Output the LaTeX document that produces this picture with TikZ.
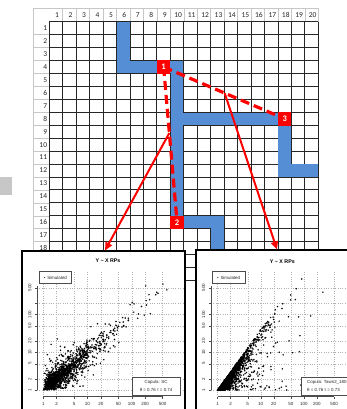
\documentclass[tikz,border=0pt]{standalone}
\usepackage{fontspec}
\setmainfont{Carlito}
\newfontfamily\plotfont{Liberation Sans}
\usetikzlibrary{arrows.meta,calc}
\definecolor{cellblue}{RGB}{85,142,213}
\newcommand\bluebox[4]{\fill[cellblue] ([xshift=0.45pt,yshift=-0.45pt]#1-1,#2-1) rectangle ([xshift=-0.45pt,yshift=0.45pt]#3,#4);}
\begin{document}
\begin{tikzpicture}[x=1pt,y=-1pt,
  gridline/.style={black!85, line width=0.9pt},
  hdrline/.style={black!22, line width=0.6pt},
  hdrnum/.style={font=\fontsize{7.5}{8}\selectfont, inner sep=0pt, text=black!85},
  marker/.style={fill=red, text=white, font=\fontsize{8.5}{9}\selectfont\bfseries, minimum size=13.5pt, inner sep=0pt},
  dashline/.style={red, line width=3.2pt, dash pattern=on 9pt off 5pt},
  arrowline/.style={red, line width=2pt, -{Triangle[length=8pt,width=7pt]}},
  plotframe/.style={draw=black, line width=1.5pt, fill=white},
  plotgrid/.style={black!30, line width=0.35pt, dotted},
  axisline/.style={black!70, line width=0.35pt},
  ptitle/.style={font=\plotfont\bfseries\fontsize{5.3}{6}\selectfont, inner sep=0pt},
  ticklab/.style={font=\plotfont\fontsize{4.5}{5}\selectfont, inner sep=0pt, text=black!85},
  legbox/.style={draw=black!70, line width=0.4pt, fill=white},
  legtext/.style={font=\plotfont\fontsize{4.4}{7.8}\selectfont, inner sep=0pt, text=black!85},
  dot/.style={draw=black, line width=0.35pt}
]
\useasboundingbox (0,0) rectangle (346,409);
\fill[white] (0,0) rectangle (346,409);

% stray grey square at left
\fill[black!22] (0,176.7) rectangle (11.7,195);

% header lines
\draw[hdrline] (33,8.3) -- (318.3,8.3);
\draw[hdrline] (33,8.3) -- (33,280.5);
\foreach \k in {1,...,19} \draw[hdrline] ({49.3+\k*13.45},8.3) -- ({49.3+\k*13.45},21.7);
\foreach \k in {1,...,20} \draw[hdrline] (33,{21.7+\k*12.94}) -- (49.3,{21.7+\k*12.94});
\draw[hdrline] (318.3,8.3) -- (318.3,21.7);

\begin{scope}[shift={(49.3,21.7)}, x=13.45pt, y=-12.94pt]
  % grid
  \foreach \k in {0,...,20} \draw[gridline] (\k,0) -- (\k,20);
  \foreach \k in {0,...,20} \draw[gridline] (0,\k) -- (20,\k);
  % headers
  \foreach \c in {1,...,20} \node[hdrnum] (h\c) at (\c-0.42,-0.53) {\c};
  \foreach \r in {1,...,18} \node[hdrnum, anchor=east] (r\r) at (-0.15,\r-0.5) {\r};
  % blue path
  \bluebox{6}{1}{6}{4}
  \bluebox{6}{4}{10}{4}
  \bluebox{10}{4}{10}{16}
  \bluebox{10}{8}{18}{8}
  \bluebox{18}{8}{18}{12}
  \bluebox{18}{12}{20}{12}
  \bluebox{10}{16}{13}{16}
  \bluebox{13}{16}{13}{20}
  % marker positions
  \coordinate (c1) at (8.5,3.5);
  \coordinate (c2) at (9.5,15.5);
  \coordinate (c3) at (17.5,7.5);
  \draw[dashline] (c1) -- (c3);
  \draw[dashline] (c1) -- (c2);
  \node[marker] (m1) at (c1) {1};
  \node[marker] (m2) at (c2) {2};
  \node[marker] (m3) at (c3) {3};
  \coordinate (s1) at ($(c1)!0.425!(c2)$);
  \coordinate (s2) at ($(c1)!0.504!(c3)$);
\end{scope}

% ================= left plot =================
\draw[plotframe] (22,251) rectangle (185,412);
\node[ptitle] (ltitle) at (108,261) {Y \textasciitilde{} X RPs};
\foreach \v in {1,2,5,10,20,50,100,200,500}{
  \pgfmathsetmacro\gx{43.3+44.2*log10(\v)}
  \pgfmathsetmacro\gy{390.3-38*log10(\v)}
  \draw[plotgrid] (\gx,272) -- (\gx,396);
  \draw[plotgrid] (36.8,\gy) -- (183,\gy);
  \draw[axisline] (\gx,396.5) -- (\gx,398.5);
  \draw[axisline] (34.8,\gy) -- (36.8,\gy);
  \node[ticklab] (lx\v) at (\gx,404) {\v};
}
\foreach \v in {1,2,5,10,20,50,100,500}{
  \pgfmathsetmacro\gy{390.3-38*log10(\v)}
  \node[ticklab, rotate=90] (ly\v) at (29.8,\gy) {\v};
}
\draw[axisline] (43.3,396.5) -- (162.7,396.5);
\draw[axisline] (36.8,390.3) -- (36.8,285.9);
\pgfmathsetseed{4242}
\begin{scope}
  \clip (37.5,271) rectangle (183,396);
  \foreach \i in {1,...,1400}{
    \pgfmathsetmacro\z{-0.95*ln(1-0.9999*rnd)}
    \pgfmathsetmacro\px{43.3+19.2*(\z-0.3*ln(1-0.9999*rnd))}
    \pgfmathsetmacro\py{390.3-16.5*(\z-0.3*ln(1-0.9999*rnd))}
    \draw[dot] (\px,\py) circle[radius=0.6pt];
  }
\end{scope}
\node[legbox, minimum width=31.7pt, minimum height=12pt, anchor=north west, legtext] (lleg) at (39.3,271.3) {\textbullet\hspace{2pt}Simulated};
\node[legbox, minimum width=48.3pt, minimum height=18.3pt, anchor=north west] (lcop) at (131.7,376.7) {};
\node[legtext, align=center] (lcopt) at (lcop.center) {Copula: SC\\θ = 0.76 τ = 0.74};

% ================= right plot =================
\draw[plotframe] (196,250) rectangle (352,412);
\node[ptitle] (rtitle) at (282.3,261.3) {Y \textasciitilde{} X RPs};
\foreach \v in {1,2,5,10,20,50,100,200,500}{
  \pgfmathsetmacro\gx{217.5+43.2*log10(\v)}
  \pgfmathsetmacro\gy{390.3-38*log10(\v)}
  \draw[plotgrid] (\gx,272) -- (\gx,396);
  \draw[plotgrid] (210.8,\gy) -- (350,\gy);
  \draw[axisline] (\gx,396.5) -- (\gx,398.5);
  \draw[axisline] (208.8,\gy) -- (210.8,\gy);
  \node[ticklab] (rx\v) at (\gx,404) {\v};
}
\foreach \v in {1,2,5,10,20,50,100,500}{
  \pgfmathsetmacro\gy{390.3-38*log10(\v)}
  \node[ticklab, rotate=90] (ry\v) at (203.5,\gy) {\v};
}
\draw[axisline] (217.5,396.5) -- (334,396.5);
\draw[axisline] (210.8,390.3) -- (210.8,285.9);
\begin{scope}
  \clip (211.5,271) rectangle (350,396);
  \foreach \i in {1,...,1400}{
    \pgfmathsetmacro\z{-ln(1-0.9999*rnd)}
    \pgfmathsetmacro\s{rnd<0.14 ? 0.8 : 0.2}
    \pgfmathsetmacro\px{217.5+18.76*(\z/1.6-\s*ln(1-0.9999*rnd))}
    \pgfmathsetmacro\py{390.3-16.5*\z}
    \draw[dot] (\px,\py) circle[radius=0.6pt];
  }
\end{scope}
\node[legbox, minimum width=33.3pt, minimum height=12pt, anchor=north west, legtext] (rleg) at (211.7,271.3) {\textbullet\hspace{2pt}Simulated};
\node[legbox, minimum width=55pt, minimum height=18.3pt, anchor=north west] (rcop) at (301,376.7) {};
\node[legtext, align=left, anchor=west] (rcopt) at (307,386) {Copula: Tawn2\_180\\θ = 0.76 τ = 0.73};

% ================= arrows =================
\coordinate (t1) at (105,250.5);
\coordinate (t2) at (277,249.5);
\draw[arrowline] (s1) -- (t1);
\draw[arrowline] (s2) -- (t2);
\end{tikzpicture}
\end{document}
